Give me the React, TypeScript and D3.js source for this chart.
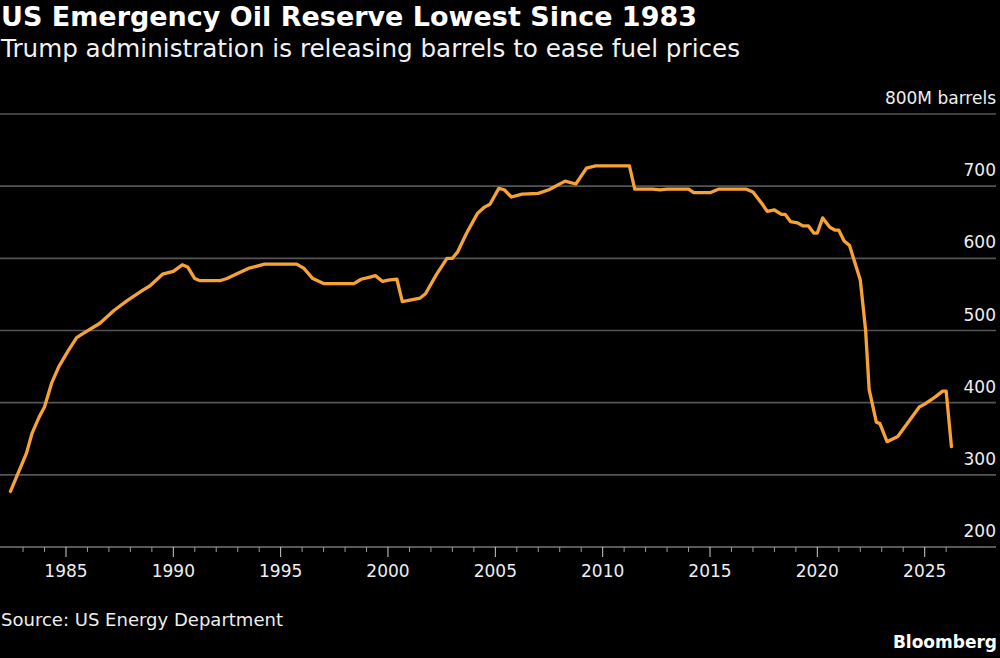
import React from "react";
import * as d3 from "d3";

// Strategic Petroleum Reserve inventory, million barrels (month, level)
const months = [
  "1982-06", "1983-03", "1983-06", "1983-10", "1984-01", "1984-05", "1984-09",
  "1985-02", "1985-07", "1985-10", "1986-08", "1987-04", "1987-11", "1988-08",
  "1988-12", "1989-07", "1990-01", "1990-06", "1990-09", "1991-01", "1991-04",
  "1992-03", "1992-07", "1992-12", "1993-07", "1994-04", "1995-10", "1996-02",
  "1996-07", "1997-01", "1998-06", "1998-10", "1999-03", "1999-06", "1999-10",
  "2000-02", "2000-06", "2000-09", "2001-07", "2001-10", "2002-04", "2002-10",
  "2003-01", "2003-04", "2003-09", "2004-03", "2004-07", "2004-10", "2005-03",
  "2005-06", "2005-10", "2006-04", "2007-01", "2007-07", "2008-04", "2008-10",
  "2009-04", "2009-09", "2011-04", "2011-07", "2012-05", "2012-09", "2013-01",
  "2014-01", "2014-04", "2015-01", "2015-06", "2016-09", "2017-01", "2017-06",
  "2017-09", "2018-01", "2018-05", "2018-07", "2018-10", "2019-02", "2019-05",
  "2019-08", "2019-11", "2020-01", "2020-04", "2020-08", "2020-11", "2021-01",
  "2021-04", "2021-07", "2022-01", "2022-04", "2022-06", "2022-10", "2022-12",
  "2023-04", "2023-10", "2024-10", "2025-01", "2025-07", "2025-11", "2026-01",
  "2026-04",
];

const barrels = [
  277, 330, 357, 380, 394, 427, 450,
  471, 490, 495, 510, 528, 541, 556,
  562, 578, 582, 591, 588, 572, 569,
  569, 572, 578, 586, 592, 592, 586,
  572, 565, 565, 571, 574, 576, 568,
  570, 571, 540, 545, 551, 577, 600,
  600, 609, 635, 662, 671, 675, 697,
  695, 685, 689, 690, 695, 707, 703,
  725, 728, 728, 696, 696, 695, 696,
  696, 691, 691, 696, 696, 692, 676,
  665, 667, 661, 661, 651, 649, 645,
  645, 635, 635, 656, 643, 639, 639,
  624, 618, 570, 501, 418, 373, 371,
  346, 353, 394, 398, 408, 416, 416,
  339,
];

const yTicks = [200, 300, 400, 500, 600, 700, 800];
const xLabelYears = [1985, 1990, 1995, 2000, 2005, 2010, 2015, 2020, 2025];

const title = "US Emergency Oil Reserve Lowest Since 1983";
const subtitle = "Trump administration is releasing barrels to ease fuel prices";
const source = "Source: US Energy Department";

const W = 1000;
const H = 658;
const font = "'DejaVu Sans', sans-serif";

const parseMonth = d3.timeParse("%Y-%m");

export default function App() {
  const points = months.map((m, i) => ({ date: parseMonth(m) as Date, value: barrels[i] }));

  const x = d3
    .scaleTime()
    .domain([new Date(1985, 0, 1), new Date(2025, 0, 1)])
    .range([66, 924.7]);

  const y = d3.scaleLinear().domain([200, 800]).range([547, 114]);

  const line = d3
    .line<{ date: Date; value: number }>()
    .x((d) => x(d.date))
    .y((d) => y(d.value));

  const yearTicks = d3.range(1983, 2027);

  return (
    <svg
      width={W}
      height={H}
      style={{ position: "absolute", left: 0, top: 0, background: "#000" }}
      fontFamily={font}
    >
      <rect width={W} height={H} fill="#000" />

      <text
        x={1}
        y={26}
        fill="#fff"
        fontSize={26}
        fontWeight="bold"
        textLength={696}
        lengthAdjust="spacingAndGlyphs"
      >
        {title}
      </text>
      <text
        x={1}
        y={57}
        fill="#f2f2f2"
        fontSize={24}
        textLength={739}
        lengthAdjust="spacingAndGlyphs"
      >
        {subtitle}
      </text>

      {/* horizontal gridlines */}
      {yTicks.slice(1).map((t) => (
        <line key={t} x1={0} x2={996} y1={y(t)} y2={y(t)} stroke="#555" strokeWidth={1.6} />
      ))}
      {yTicks.map((t) => (
        <text key={t} x={996} y={y(t) - 10} fill="#eee" fontSize={17} textAnchor="end">
          {t === 800 ? "800M barrels" : t}
        </text>
      ))}

      {/* x axis */}
      <line x1={0} x2={996} y1={y(200)} y2={y(200)} stroke="#777" strokeWidth={1.6} />
      {yearTicks.map((yr) => {
        const xp = x(new Date(yr, 0, 1));
        const major = yr % 5 === 0;
        return (
          <line
            key={yr}
            x1={xp}
            x2={xp}
            y1={y(200)}
            y2={y(200) + (major ? 10 : 5)}
            stroke={major ? "#ccc" : "#999"}
            strokeWidth={1}
          />
        );
      })}
      {xLabelYears.map((yr) => (
        <text
          key={yr}
          x={x(new Date(yr, 0, 1))}
          y={577}
          fill="#eee"
          fontSize={17}
          textAnchor="middle"
        >
          {yr}
        </text>
      ))}

      <path
        d={line(points) ?? ""}
        fill="none"
        stroke="#f7a235"
        strokeWidth={3.3}
        strokeLinejoin="round"
        strokeLinecap="round"
      />

      <text x={1} y={626} fill="#eee" fontSize={18} textLength={282} lengthAdjust="spacingAndGlyphs">
        {source}
      </text>
      <text x={997} y={648} fill="#fff" fontSize={17} fontWeight="bold" textAnchor="end">
        Bloomberg
      </text>
    </svg>
  );
}
